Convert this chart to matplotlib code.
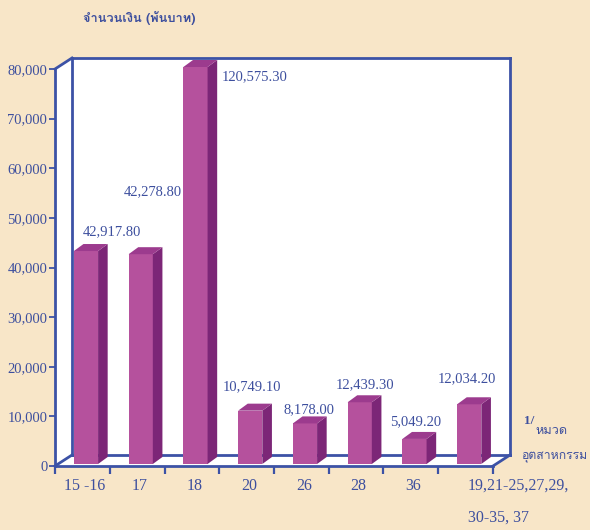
import matplotlib
matplotlib.use('Agg')
import matplotlib.pyplot as plt
from matplotlib.patches import Polygon
from matplotlib import font_manager
from matplotlib.ft2font import FT2Font

# ---------------- data ----------------
categories = ['15 -16', '17', '18', '20', '26', '28', '36', '19,21-25,27,29,']
last_category_line2 = '30-35, 37'
values = [42917.80, 42278.80, 120575.30, 10749.10, 8178.00, 12439.30, 5049.20, 12034.20]
value_labels = ['42,917.80', '42,278.80', '120,575.30', '10,749.10',
                '8,178.00', '12,439.30', '5,049.20', '12,034.20']
yticks = [0, 10000, 20000, 30000, 40000, 50000, 60000, 70000, 80000]
ytick_labels = ['0', '10,000', '20,000', '30,000', '40,000', '50,000',
                '60,000', '70,000', '80,000']
y_title = 'จำนวนเงิน (พันบาท)'
x_title_note = '1/'
x_title_1 = 'หมวด'
x_title_2 = 'อุตสาหกรรม'

# ---------------- style ----------------
BG = '#f8e6c8'
BLUE = '#3c52a6'
TXT = '#3d4f9e'
FRONT = '#b5519d'
SIDE = '#7c2677'
TOP = '#9c3b8e'
YMAX = 80000


def find_thai_font():
    for f in font_manager.fontManager.ttflist:
        try:
            ft = FT2Font(f.fname)
            cm = ft.get_charmap()
            if 0x0E08 in cm and 0x0E19 in cm:
                return f.name
        except Exception:
            pass
    return 'DejaVu Sans'


THAI = find_thai_font()
SERIF = 'Liberation Serif'

W, H = 590, 530
fig = plt.figure(figsize=(W / 100, H / 100), dpi=100, facecolor=BG)
ax = fig.add_axes([55 / W, 64 / H, 438 / W, 397 / H])
ax.set_xlim(-0.5, 7.5)
ax.set_ylim(0, YMAX)
ax.patch.set_visible(False)

# 3D depth of the box (category units / value units)
px_x = 8.0 / 438.0          # category units per pixel
px_y = YMAX / 397.0         # value units per pixel
DX = 17 * px_x
DY = 11 * px_y

x0, x1 = -0.5, 7.5
# walls
walls = [
    [(x0 + DX, DY), (x1 + DX, DY), (x1 + DX, YMAX + DY), (x0 + DX, YMAX + DY)],
    [(x0, 0), (x0 + DX, DY), (x0 + DX, YMAX + DY), (x0, YMAX)],
    [(x0, 0), (x1, 0), (x1 + DX, DY), (x0 + DX, DY)],
]
for w in walls:
    ax.add_patch(Polygon(w, closed=True, facecolor='white', edgecolor='none',
                         clip_on=False, zorder=0))

lw = 2.0
frame_lines = [
    [(x0 + DX, DY), (x0 + DX, YMAX + DY)],
    [(x0 + DX, YMAX + DY), (x1 + DX, YMAX + DY)],
    [(x1 + DX, YMAX + DY), (x1 + DX, DY)],
    [(x0 + DX, DY), (x1 + DX, DY)],
    [(x0, YMAX), (x0 + DX, YMAX + DY)],
    [(x0, 0), (x0 + DX, DY)],
    [(x1, 0), (x1 + DX, DY)],
]
for seg in frame_lines:
    ax.plot([seg[0][0], seg[1][0]], [seg[0][1], seg[1][1]], color=BLUE,
            lw=lw, clip_on=False, zorder=1, solid_capstyle='projecting')

# bars
bar_left = -8.5 * px_x
bar_w = 24.2 * px_x
bar_dx = 9.6 * px_x
bar_dy = 7 * px_y
base = 2 * px_y
for i, v in enumerate(values):
    top = min(v, YMAX) + base
    l = i + bar_left
    r = l + bar_w
    ax.add_patch(Polygon([(l, base), (r, base), (r, top), (l, top)], closed=True,
                         facecolor=FRONT, edgecolor='none', clip_on=False, zorder=3))
    ax.add_patch(Polygon([(r, base), (r + bar_dx, base + bar_dy), (r + bar_dx, top + bar_dy), (r, top)],
                         closed=True, facecolor=SIDE, edgecolor='none', clip_on=False, zorder=3))
    ax.add_patch(Polygon([(l, top), (r, top), (r + bar_dx, top + bar_dy), (l + bar_dx, top + bar_dy)],
                         closed=True, facecolor=TOP, edgecolor='none', clip_on=False, zorder=3))

# value labels (offsets in pixels relative to bar front top / slot centre)
lab_dx = [30, 15.75, 63, 5.25, 7.5, 8.75, 4.5, 1.75]
lab_dy = [19.3, 62.5, -10, 23.7, 13.4, 17.3, 16.9, 25.3]
for i, v in enumerate(values):
    top = min(v, YMAX) + base
    ax.annotate(value_labels[i], xy=(i, top), xytext=(lab_dx[i] * 0.72, lab_dy[i] * 0.72),
                textcoords='offset points', ha='center', va='center',
                fontsize=10.5, color=TXT, family=SERIF, zorder=5, annotation_clip=False)

# spines & ticks
for s in ['top', 'right']:
    ax.spines[s].set_visible(False)
for s in ['left', 'bottom']:
    ax.spines[s].set_color(BLUE)
    ax.spines[s].set_linewidth(lw)
    ax.spines[s].set_zorder(6)

ax.set_yticks(yticks)
ax.set_yticklabels(ytick_labels, family=SERIF, fontsize=10.5, color=TXT)
ax.tick_params(axis='y', direction='out', length=4, width=1.3, color=BLUE, pad=1.5)

ax.set_xticks([k - 0.5 for k in range(len(categories) + 1)])
ax.set_xticklabels([])
ax.tick_params(axis='x', direction='out', length=6, width=1.6, color=BLUE)

for i, c in enumerate(categories):
    if i < len(categories) - 1:
        ax.annotate(c, xy=(i, 0), xycoords=('data', 'axes fraction'),
                    xytext=(2.5 * 0.72, -20 * 0.72), textcoords='offset points',
                    ha='center', va='center', fontsize=11.5, color=TXT, family=SERIF,
                    annotation_clip=False)
    else:
        ax.annotate(c, xy=(i, 0), xycoords=('data', 'axes fraction'),
                    xytext=(2 * 0.72, -20 * 0.72), textcoords='offset points',
                    ha='left', va='center', fontsize=11.5, color=TXT, family=SERIF,
                    annotation_clip=False)
        ax.annotate(last_category_line2, xy=(i, 0), xycoords=('data', 'axes fraction'),
                    xytext=(2 * 0.72, -52 * 0.72), textcoords='offset points',
                    ha='left', va='center', fontsize=11.5, color=TXT, family=SERIF,
                    annotation_clip=False)

# titles
fig.text(139 / W, 1 - 18 / H, y_title, ha='center', va='center', fontsize=9.2,
         fontweight='bold', color=TXT, family=[THAI, 'DejaVu Sans'])
fig.text(529 / W, 1 - 421 / H, x_title_note, ha='center', va='center', fontsize=9.5,
         fontweight='bold', color=TXT, family=SERIF)
fig.text(552 / W, 1 - 431 / H, x_title_1, ha='center', va='center', fontsize=9.2,
         color=TXT, family=[THAI, 'DejaVu Sans'])
fig.text(587 / W, 1 - 457 / H, x_title_2, ha='right', va='center', fontsize=8.8,
         color=TXT, family=[THAI, 'DejaVu Sans'])

fig.savefig('out.png', dpi=100, facecolor=BG)
